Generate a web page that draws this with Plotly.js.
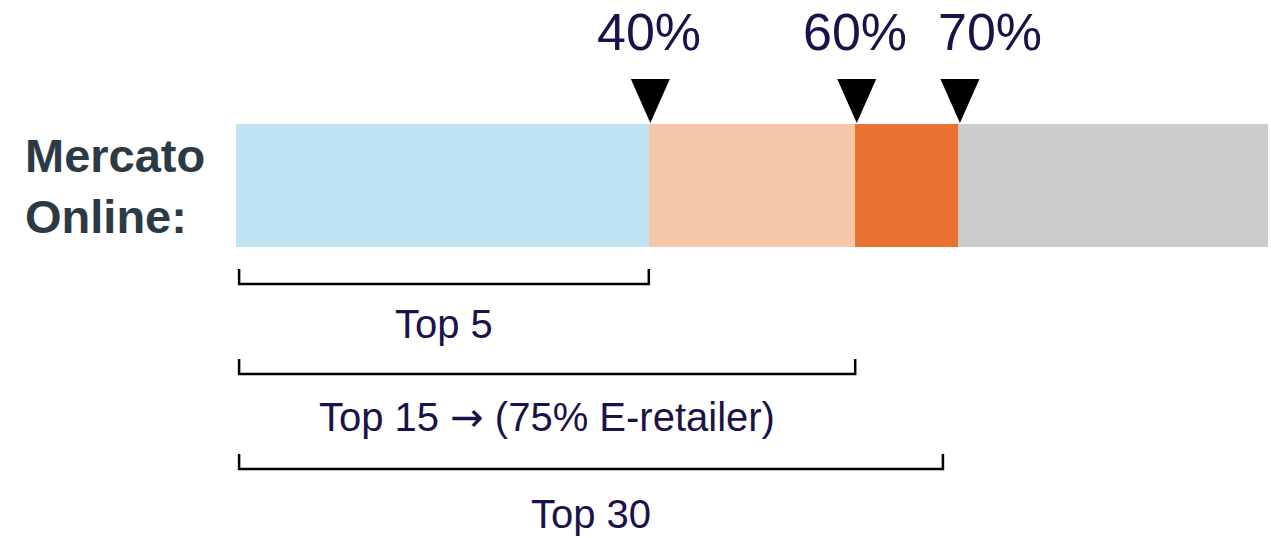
<!DOCTYPE html>
<html>
<head>
<meta charset="utf-8">
<script src="https://cdn.plot.ly/plotly-3.0.1.min.js"></script>
<style>html,body{margin:0;padding:0;background:#fff;}#chart{width:1271px;height:538px;}</style>
</head>
<body>
<div id="chart"></div>
<script>
// ---- data ----
const category = 'Mercato Online:';
const segmentNames = ['Top 5', 'Top 6-15', 'Top 16-30', 'Altri'];
const segmentValues = [40, 20, 10, 30];
const segmentColors = ['#C0E4F4', '#F5C6AA', '#E97132', '#CBCBCB'];
const markerValues = [40, 60, 70];
const markerLabels = ['40%', '60%', '70%'];
const bracketLabels = ['Top 5', 'Top 15 <span style="font-family:DejaVu Sans">\u2192</span> (75% E-retailer)', 'Top 30'];
const bracketEnds = [40, 60, 68.5];

// ---- layout helpers ----
const W = 1271, H = 538;
const py = p => 1 - p / H;               // pixel row -> paper y
const xPerPx = 100 / 1032;               // data units per pixel
const xRange = [-236 * xPerPx, (W - 236) * xPerPx];
const barTop = 124, barBot = 247, barPx = barBot - barTop, barMid = (barTop + barBot) / 2;
const yRange = [-(H - barMid) / barPx, barMid / barPx];

const navy = '#1A1249';
const font = 'Liberation Sans, Arial, sans-serif';

const traces = segmentValues.map((v, i) => ({
  type: 'bar', orientation: 'h',
  x: [v], y: [category], name: segmentNames[i],
  marker: { color: segmentColors[i], line: { width: 0 } },
  hoverinfo: 'skip', showlegend: false
}));

const shapes = [];
const annotations = [];

// triangles pointing at each threshold
const triHalf = 19.5 * xPerPx;
markerValues.forEach(v => {
  const x = v + 0.15;
  shapes.push({
    type: 'path', xref: 'x', yref: 'paper',
    path: `M${x - triHalf},${py(79)} L${x + triHalf},${py(79)} L${x},${py(123)} Z`,
    fillcolor: '#000', line: { width: 0 }
  });
});

// percent labels
const labelShift = [0, 0, 32];
markerValues.forEach((v, i) => {
  annotations.push({
    x: v, xref: 'x', y: py(32), yref: 'paper',
    text: markerLabels[i], showarrow: false, xanchor: 'center', yanchor: 'middle',
    xshift: labelShift[i],
    font: { family: font, size: 52, color: navy }
  });
});

// brackets and their labels
const bracketLineY = [284, 374, 469];
const labelMidY = [324, 417, 514];
const bracketStart = 0.3;
bracketEnds.forEach((e, i) => {
  const yb = py(bracketLineY[i]), yt = py(bracketLineY[i] - 15);
  shapes.push({
    type: 'path', xref: 'x', yref: 'paper',
    path: `M${bracketStart},${yt} L${bracketStart},${yb} L${e},${yb} L${e},${yt}`,
    line: { color: '#000', width: 2.5 }
  });
  annotations.push({
    x: (bracketStart + e) / 2, xref: 'x', y: py(labelMidY[i]), yref: 'paper',
    text: bracketLabels[i], showarrow: false, xanchor: 'center', yanchor: 'middle',
    font: { family: font, size: 40, color: navy }
  });
});

// category label
annotations.push({
  x: 23 / W, xref: 'paper', y: py(186), yref: 'paper',
  text: '<b>Mercato<br>Online:</b>', showarrow: false, xanchor: 'left', yanchor: 'middle',
  align: 'left',
  font: { family: font, size: 47, color: '#2B3A45' }
});

const layout = {
  width: W, height: H,
  margin: { l: 0, r: 0, t: 0, b: 0, pad: 0 },
  paper_bgcolor: '#fff', plot_bgcolor: '#fff',
  barmode: 'stack', bargap: 0,
  showlegend: false,
  xaxis: { range: xRange, visible: false, fixedrange: true },
  yaxis: { range: yRange, visible: false, fixedrange: true, type: 'category' },
  shapes: shapes,
  annotations: annotations
};

Plotly.newPlot('chart', traces, layout, { displayModeBar: false, staticPlot: true });
</script>
</body>
</html>
